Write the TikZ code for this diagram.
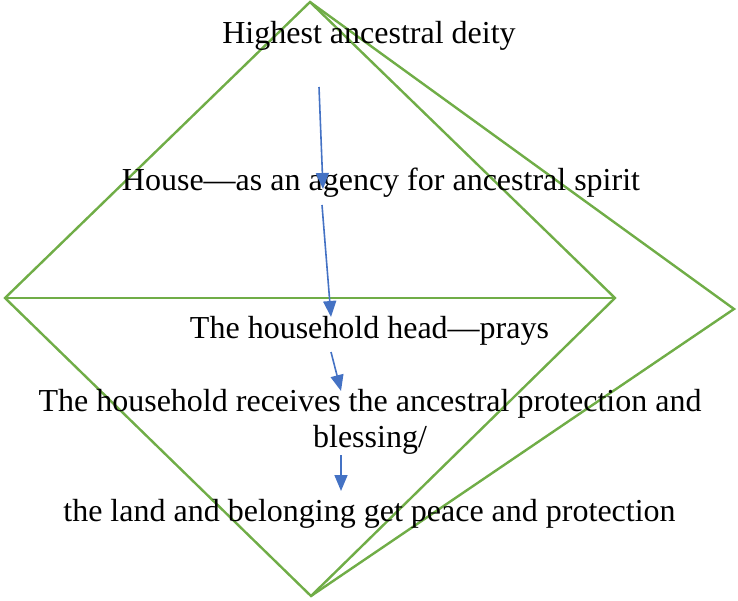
\documentclass[tikz,border=0pt]{standalone}
\usepackage{fontspec}
\setmainfont{Liberation Serif}
\usetikzlibrary{arrows.meta}
\definecolor{grn}{HTML}{70AD47}
\definecolor{blu}{HTML}{4472C4}
\begin{document}
\begin{tikzpicture}[x=1pt,y=-1pt,
  shapeline/.style={draw=grn,line width=2.4pt,line join=miter},
  flow/.style={draw=blu,line width=1.6pt,-{Triangle[length=16pt,width=13pt]}},
  lbl/.style={anchor=base,inner sep=0pt,font=\fontsize{32}{36}\selectfont,align=center}]
\useasboundingbox (0,0) rectangle (738,601);
\coordinate (T) at (310,2);
\coordinate (L) at (5,298);
\coordinate (R) at (615,298);
\coordinate (B) at (311,596);
\coordinate (FR) at (734,309);
\draw[shapeline] (T) -- (R) -- (B) -- (L) -- cycle;
\draw[shapeline] (L) -- (R);
\draw[shapeline] (T) -- (FR) -- (B);
\node[lbl] (t1) at (369,44) {Highest ancestral deity};
\node[lbl] (t2) at (381,191) {House—as an agency for ancestral spirit};
\node[lbl] (t3) at (369.5,338) {The household head—prays};
\node[lbl] (t4) at (370,411) {The household receives the ancestral protection and};
\node[lbl] (t5) at (370,447) {blessing/};
\node[lbl] (t6) at (369.5,521) {the land and belonging get peace and protection};
\coordinate (a1s) at (319,87);
\coordinate (a1e) at (323,189);
\coordinate (a2s) at (322,205);
\coordinate (a2e) at (331,317);
\coordinate (a3s) at (331,352);
\coordinate (a3e) at (341,391);
\coordinate (a4s) at (341,455);
\coordinate (a4e) at (341,491);
\draw[flow] (a1s) -- (a1e);
\draw[flow] (a2s) -- (a2e);
\draw[flow] (a3s) -- (a3e);
\draw[flow] (a4s) -- (a4e);
\end{tikzpicture}
\end{document}
